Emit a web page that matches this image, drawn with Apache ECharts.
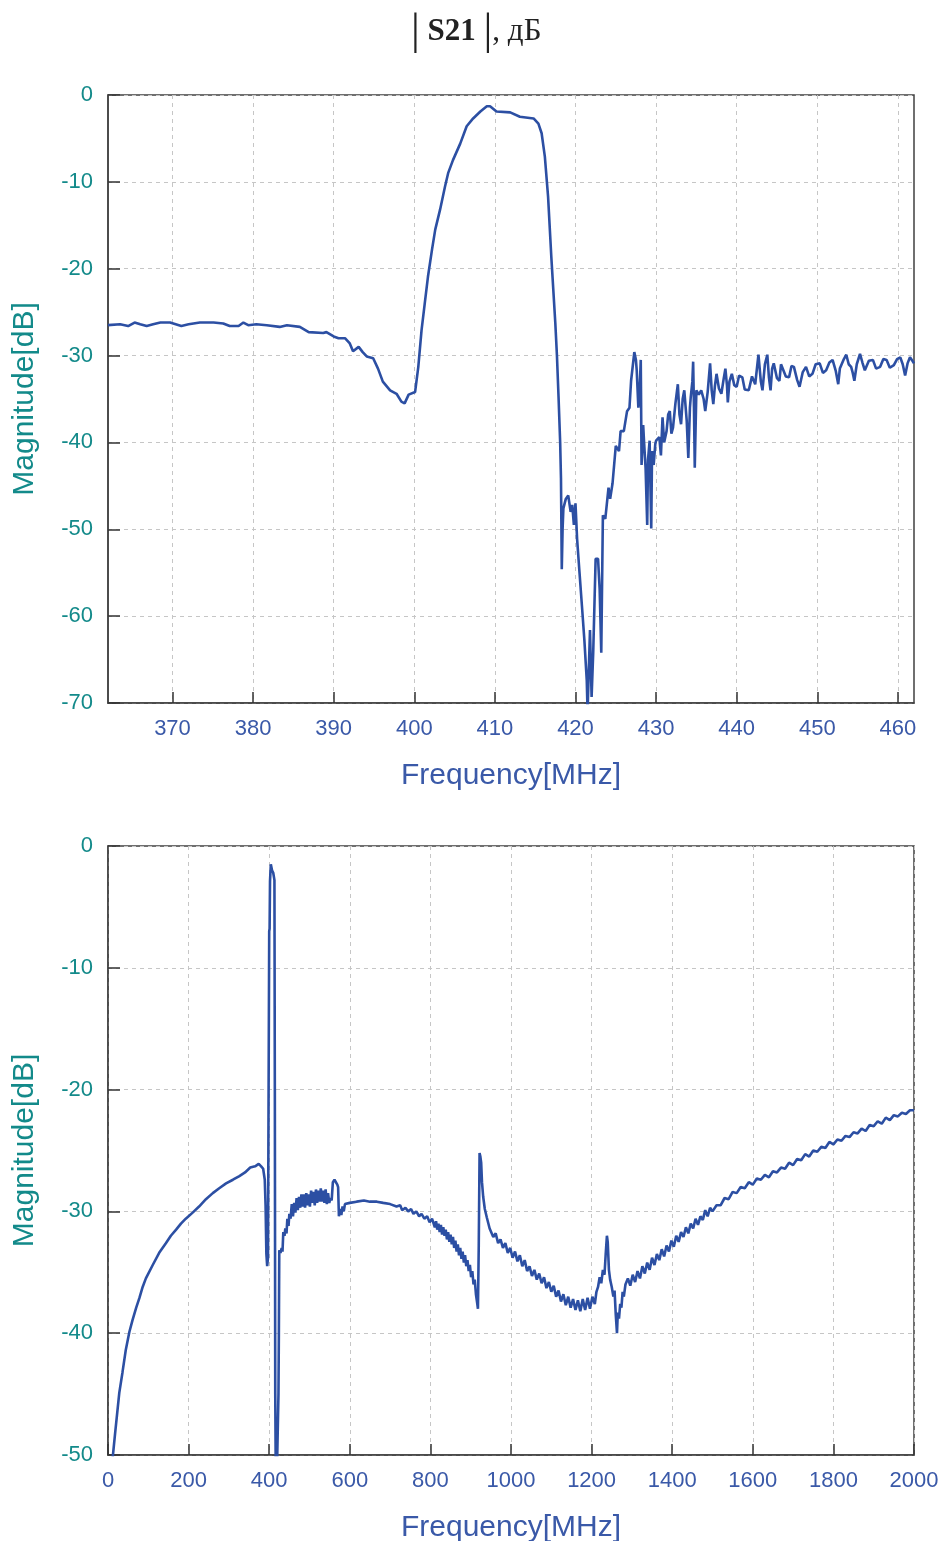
<!DOCTYPE html>
<html>
<head>
<meta charset="utf-8">
<script src="https://cdn.jsdelivr.net/npm/echarts@6/dist/echarts.min.js"></script>
<style>
html,body{margin:0;padding:0;background:#fff;}
#chart{width:942px;height:1541px;}
</style>
</head>
<body>
<div id="chart"></div>
<script>
// ---- tick labels ----
const topXTicks = [370, 380, 390, 400, 410, 420, 430, 440, 450, 460];
const topYTicks = [0, -10, -20, -30, -40, -50, -60, -70];
const botXTicks = [0, 200, 400, 600, 800, 1000, 1200, 1400, 1600, 1800, 2000];
const botYTicks = [0, -10, -20, -30, -40, -50];

// ---- top panel: |S21| (dB) vs frequency (MHz), 362..462 MHz ----
const topS21 = [
[362.0,-26.5],[363.5,-26.4],[364.5,-26.6],[365.3,-26.2],[366.0,-26.4],[366.8,-26.6],[367.6,-26.4],[368.5,-26.2],
[369.7,-26.2],[371.1,-26.6],[372.0,-26.4],[373.4,-26.2],[375.1,-26.2],[376.3,-26.3],[377.1,-26.6],[378.2,-26.6],
[378.8,-26.2],[379.4,-26.5],[380.4,-26.4],[381.7,-26.5],[383.3,-26.7],[384.2,-26.5],[385.8,-26.7],[386.9,-27.3],
[388.7,-27.4],[389.1,-27.3],[390.0,-27.8],[390.6,-28.0],[391.4,-28.0],[392.0,-28.6],[392.4,-29.5],[393.1,-29.0],
[393.6,-29.6],[394.1,-30.1],[394.9,-30.3],[395.5,-31.5],[396.1,-33.0],[397.0,-34.0],[397.8,-34.4],[398.4,-35.3],
[398.8,-35.5],[399.3,-34.5],[400.1,-34.2],[400.5,-31.3],[400.9,-27.1],[401.3,-24.0],[401.7,-20.9],[402.2,-17.8],
[402.6,-15.5],[403.2,-13.2],[403.8,-10.6],[404.2,-9.0],[404.8,-7.5],[405.7,-5.6],[406.5,-3.6],[407.3,-2.7],
[408.2,-1.9],[409.0,-1.3],[409.4,-1.3],[410.2,-1.9],[411.9,-2.0],[413.1,-2.5],[414.8,-2.7],[415.4,-3.3],
[415.8,-4.4],[416.2,-7.1],[416.6,-11.7],[417.0,-18.6],[417.5,-26.3],[417.7,-30.0],[417.9,-34.8],[418.1,-40.0],
[418.2,-44.1],[418.3,-54.6],[418.4,-50.0],[418.5,-47.6],[418.8,-46.5],[419.1,-46.1],[419.4,-48.0],[419.6,-47.2],
[419.8,-49.5],[420.0,-47.0],[420.2,-51.1],[420.5,-55.0],[420.8,-58.8],[421.1,-62.7],[421.4,-67.4],[421.5,-71.0],
[421.8,-61.6],[422.0,-69.3],[422.2,-64.2],[422.5,-53.4],[422.8,-53.4],[423.0,-56.9],[423.2,-64.2],[423.4,-48.4],
[423.7,-48.8],[424.1,-45.2],[424.3,-46.5],[424.6,-44.7],[425.0,-40.4],[425.4,-41.0],[425.6,-38.7],[426.0,-38.7],
[426.4,-36.4],[426.7,-36.0],[426.9,-32.9],[427.3,-29.6],[427.5,-30.5],[427.6,-31.7],[427.8,-36.0],[428.0,-33.0],
[428.1,-30.5],[428.2,-42.6],[428.4,-38.0],[428.5,-39.8],[428.7,-43.0],[428.9,-49.5],[429.0,-42.0],[429.2,-39.8],
[429.3,-45.0],[429.4,-49.9],[429.5,-41.0],[429.7,-42.6],[429.9,-40.2],[430.0,-39.8],[430.4,-39.4],[430.6,-41.5],
[430.8,-37.1],[431.0,-40.0],[431.3,-38.7],[431.5,-36.8],[431.7,-36.4],[431.9,-39.0],[432.1,-38.3],[432.4,-35.5],
[432.7,-33.3],[432.9,-36.8],[433.1,-37.9],[433.3,-35.0],[433.5,-34.0],[433.8,-37.5],[434.0,-41.8],[434.2,-36.0],
[434.3,-34.8],[434.5,-33.0],[434.6,-30.7],[434.7,-36.0],[434.8,-42.9],[435.0,-34.0],[435.3,-34.5],[435.6,-34.0],
[435.9,-35.0],[436.1,-36.4],[436.4,-34.2],[436.7,-30.9],[436.9,-34.0],[437.1,-35.6],[437.3,-33.5],[437.5,-32.1],
[437.8,-33.8],[438.1,-34.4],[438.4,-32.6],[438.6,-31.5],[438.8,-33.5],[438.9,-35.4],[439.1,-33.0],[439.4,-32.1],
[439.7,-33.4],[440.0,-33.6],[440.3,-32.3],[440.7,-32.5],[441.0,-33.9],[441.5,-34.0],[441.9,-32.4],[442.3,-33.3],
[442.7,-29.9],[443.0,-33.0],[443.2,-34.0],[443.5,-31.0],[443.8,-29.9],[444.0,-32.5],[444.2,-34.0],[444.4,-31.5],
[444.6,-30.9],[445.0,-32.6],[445.3,-32.9],[445.5,-31.0],[445.7,-30.9],[446.1,-32.4],[446.5,-32.5],[446.8,-31.2],
[447.1,-31.3],[447.5,-32.8],[447.8,-33.6],[448.2,-31.9],[448.6,-31.3],[449.0,-32.4],[449.4,-32.1],[449.8,-31.0],
[450.3,-30.9],[450.7,-32.0],[451.1,-31.7],[451.5,-30.8],[451.9,-30.5],[452.3,-31.8],[452.6,-33.3],[452.8,-31.5],
[453.0,-31.7],[453.3,-30.4],[453.6,-29.9],[453.9,-31.0],[454.2,-31.3],[454.4,-32.0],[454.6,-32.9],[454.9,-31.0],
[455.3,-29.8],[455.6,-30.8],[455.9,-31.7],[456.4,-30.6],[456.9,-30.5],[457.3,-31.5],[457.8,-31.3],[458.2,-30.4],
[458.6,-30.5],[459.0,-31.4],[459.5,-31.1],[459.9,-30.4],[460.3,-30.2],[460.6,-31.0],[460.9,-32.3],[461.2,-30.9],
[461.5,-30.2],[461.8,-30.6],[462.0,-30.9]
];

// ---- bottom panel: |S21| (dB) vs frequency (MHz), 0..2000 MHz ----
const botS21 = [
[8,-52],[12,-50.1],[18,-48.1],[28,-44.9],[36,-43.2],[44,-41.4],[53,-39.9],[61,-38.9],[70,-37.9],[78,-37.1],[86,-36.2],[94,-35.5],
[111,-34.4],[127,-33.4],[144,-32.6],[156,-32.0],[169,-31.5],[181,-31.0],[193,-30.6],[210,-30.1],[226,-29.6],[243,-29.0],[260,-28.5],
[276,-28.1],[293,-27.7],[310,-27.4],[326,-27.1],[340,-26.8],[353,-26.4],[365,-26.3],[374,-26.1],[380,-26.3],
[385,-26.5],[389,-27.4],[391,-29.5],[393,-33.5],[395,-34.5],[397,-33.8],[398,-24.5],[400,-7.0],[401,-6.8],
[402,-2.9],[404,-1.5],[406,-1.6],[407,-2.0],[410,-2.2],[413,-2.8],[414,-20],[415,-45],[417,-55],[421,-55],
[423,-45],[424,-40],[425,-33.2],[428,-33.4],[431,-33.0],[433,-33.3],[435,-31.7],[438,-32.0],[440,-31.4],
[443,-31.8],[445,-30.6],[448,-31.2],[450,-30.2],[453,-30.6],
[456,-29.4],[459,-30.4],[462,-29.3],[465,-30.1],[468,-28.9],[471,-29.9],[474,-28.8],[477,-29.7],[480,-28.6],
[483,-29.6],[486,-28.6],[489,-29.7],[492,-28.5],[495,-29.5],[498,-28.6],[501,-29.6],[504,-28.3],[507,-29.3],
[510,-28.4],[513,-29.5],[516,-28.2],[519,-29.3],[522,-28.3],[525,-29.2],[528,-28.1],[531,-29.2],[534,-28.3],
[537,-29.3],[540,-28.2],[543,-29.4],[546,-28.5],[549,-29.3],[552,-28.9],[555,-29.1],
[558,-27.6],[562,-27.4],[566,-27.5],[569,-27.8],[571,-28.0],[573,-30.4],[576,-29.8],[579,-30.3],[582,-29.6],
[585,-30.0],[588,-29.4],[592,-29.5],[600,-29.3],[617,-29.2],[635,-29.1],[650,-29.2],[667,-29.2],[683,-29.3],
[700,-29.4],[716,-29.6],[725,-29.5],[730,-29.9],[738,-29.7],[745,-30.0],[752,-29.8],[758,-30.2],[765,-30.0],
[772,-30.4],[778,-30.2],[785,-30.6],[792,-30.4],[798,-30.9],[804,-30.6],
[808,-30.6],[811,-31.3],[814,-30.8],[817,-31.5],[820,-31.0],[823,-31.7],[826,-31.1],[829,-31.9],[832,-31.3],
[835,-32.0],[838,-31.5],[841,-32.3],[844,-31.7],[847,-32.5],[850,-31.9],[853,-32.7],[856,-32.1],[859,-33.0],
[862,-32.4],[865,-33.3],[868,-32.7],[871,-33.6],[874,-33.0],[877,-33.9],[880,-33.3],[883,-34.2],[886,-33.6],
[889,-34.5],[892,-34.0],[895,-34.9],[898,-34.4],[901,-35.4],[904,-34.9],[907,-36.0],[910,-35.6],[913,-36.8],
[916,-37.5],[918,-38.0],
[920,-32.8],[922,-25.2],[924,-25.5],[926,-26.0],[928,-27.6],[931,-28.8],[935,-29.8],[940,-30.5],[947,-31.4],
[950,-31.3],[956,-32.1],[962,-31.8],[968,-32.6],[974,-32.3],[980,-33.0],[986,-32.6],[992,-33.4],[998,-33.0],
[1004,-33.8],[1010,-33.3],[1016,-34.1],[1022,-33.6],[1028,-34.5],[1034,-34.0],[1040,-34.9],[1046,-34.5],
[1052,-35.3],[1058,-34.8],[1064,-35.6],[1070,-35.1],[1076,-35.9],[1082,-35.4],[1088,-36.3],[1094,-35.8],
[1100,-36.6],[1106,-36.1],[1112,-37.0],[1118,-36.5],[1124,-37.4],[1130,-36.8],[1136,-37.7],[1142,-37.0],
[1148,-37.9],[1154,-37.2],[1160,-38.1],[1166,-37.3],[1172,-38.2],[1178,-37.2],[1184,-38.1],[1190,-37.1],
[1196,-38.0],[1202,-37.0],[1208,-37.6],[1212,-36.6],[1216,-36.2],[1220,-35.4],[1224,-35.9],[1228,-34.8],
[1232,-35.2],[1235,-33.5],[1238,-32.0],[1240,-32.5],[1243,-34.8],[1246,-35.6],[1250,-36.2],[1254,-37.0],
[1257,-36.5],[1260,-38.5],[1263,-40.0],[1265,-38.3],[1268,-38.8],[1271,-37.6],[1274,-37.9],[1277,-36.6],
[1280,-37.0],[1284,-36.0],
[1290,-35.5],[1296,-36.1],[1302,-35.2],[1308,-35.8],[1314,-34.9],[1320,-35.5],[1326,-34.5],[1332,-35.1],
[1338,-34.2],[1344,-34.8],[1350,-33.8],[1356,-34.4],[1362,-33.5],[1368,-34.0],[1374,-33.1],[1380,-33.7],
[1386,-32.8],[1392,-33.3],[1398,-32.4],[1404,-32.9],[1410,-32.0],[1416,-32.5],[1422,-31.7],[1428,-32.1],
[1434,-31.3],[1440,-31.8],[1446,-31.0],[1452,-31.4],[1458,-30.6],[1464,-31.1],[1470,-30.4],[1476,-30.7],
[1482,-29.9],[1488,-30.4],[1494,-29.7],[1500,-30.0],
[1510,-29.5],[1520,-29.5],[1530,-28.9],[1540,-29.0],[1550,-28.4],[1560,-28.5],[1570,-28.0],[1580,-28.1],
[1590,-27.6],[1600,-27.8],[1610,-27.3],[1620,-27.4],[1630,-27.0],[1640,-27.2],[1650,-26.7],[1660,-26.8],
[1670,-26.4],[1680,-26.5],[1690,-26.0],[1700,-26.2],[1710,-25.7],[1720,-25.8],[1730,-25.3],[1740,-25.5],
[1750,-25.0],[1760,-25.1],[1770,-24.7],[1780,-24.8],[1790,-24.3],[1800,-24.5],[1810,-24.1],[1820,-24.2],
[1830,-23.8],[1840,-23.9],[1850,-23.5],[1860,-23.6],[1870,-23.2],[1880,-23.4],[1890,-22.9],[1900,-23.0],
[1910,-22.6],[1920,-22.8],[1930,-22.3],[1940,-22.5],[1950,-22.1],[1960,-22.2],[1970,-21.9],[1980,-22.0],
[1990,-21.7],[2000,-21.7]
];

const LINE = '#2c4fa3';
const TEAL = '#138a8a';
const BLUE = '#3a59a8';
const FONT = 'Liberation Sans, Arial, sans-serif';

function plain(v) { return String(v); }

function xAxisCfg(idx, min, max, ticks, interval) {
  const a = {
    gridIndex: idx, type: 'value', min: min, max: max,
    name: 'Frequency[MHz]', nameLocation: 'middle', nameGap: 58,
    nameTextStyle: {color: BLUE, fontSize: 30, fontFamily: FONT},
    axisLine: {show: true, onZero: false, lineStyle: {color: '#404040', width: 1.5}},
    axisTick: {show: true, inside: true, length: 11, lineStyle: {color: '#333', width: 1.5}},
    axisLabel: {color: BLUE, fontSize: 22, fontFamily: FONT, margin: 15, formatter: plain},
    splitLine: {show: true, lineStyle: {color: '#c6c6c6', type: [4, 4], width: 1}}
  };
  if (interval) { a.interval = interval; }
  else { a.axisTick.customValues = ticks; a.axisLabel.customValues = ticks; }
  return a;
}
function yAxisCfg(idx, min) {
  return {
    gridIndex: idx, type: 'value', min: min, max: 0, interval: 10,
    name: 'Magnitude[dB]', nameLocation: 'middle', nameGap: 68, nameRotate: 90,
    nameTextStyle: {color: TEAL, fontSize: 30, fontFamily: FONT},
    axisLine: {show: true, onZero: false, lineStyle: {color: '#404040', width: 1.5}},
    axisTick: {show: true, inside: true, length: 12, lineStyle: {color: '#333', width: 1.5}},
    axisLabel: {color: TEAL, fontSize: 22, fontFamily: FONT, margin: 15, formatter: plain},
    splitLine: {show: true, lineStyle: {color: '#c6c6c6', type: [4, 4], width: 1}}
  };
}

const chart = echarts.init(document.getElementById('chart'), null, {renderer: 'canvas'});
chart.setOption({
  animation: false,
  backgroundColor: '#ffffff',
  title: {
    text: '{bar||}{b| S21 }{bar||}{n|, дБ}',
    left: 406, top: 5,
    textStyle: {
      rich: {
        bar: {fontFamily: 'Liberation Serif', fontSize: 44, color: '#222', fontWeight: 'normal'},
        b: {fontFamily: 'Liberation Serif', fontSize: 31, color: '#222', fontWeight: 'bold'},
        n: {fontFamily: 'Liberation Serif', fontSize: 31, color: '#222', fontWeight: 'normal'}
      }
    }
  },
  grid: [
    {left: 108, right: 28, top: 95, height: 608, show: true, borderColor: '#404040', borderWidth: 1.5,
     containLabel: false, outerBoundsMode: 'none'},
    {left: 108, right: 28, top: 846, height: 609, show: true, borderColor: '#404040', borderWidth: 1.5,
     containLabel: false, outerBoundsMode: 'none'}
  ],
  xAxis: [
    xAxisCfg(0, 362, 462, topXTicks, null),
    xAxisCfg(1, 0, 2000, botXTicks, 200)
  ],
  yAxis: [
    yAxisCfg(0, topYTicks[topYTicks.length - 1]),
    yAxisCfg(1, botYTicks[botYTicks.length - 1])
  ],
  series: [
    {type: 'line', xAxisIndex: 0, yAxisIndex: 0, data: topS21, showSymbol: false, clip: true,
     lineStyle: {color: LINE, width: 2.6}, itemStyle: {color: LINE}},
    {type: 'line', xAxisIndex: 1, yAxisIndex: 1, data: botS21, showSymbol: false, clip: true,
     lineStyle: {color: LINE, width: 2.6}, itemStyle: {color: LINE}}
  ]
});
</script>
</body>
</html>
